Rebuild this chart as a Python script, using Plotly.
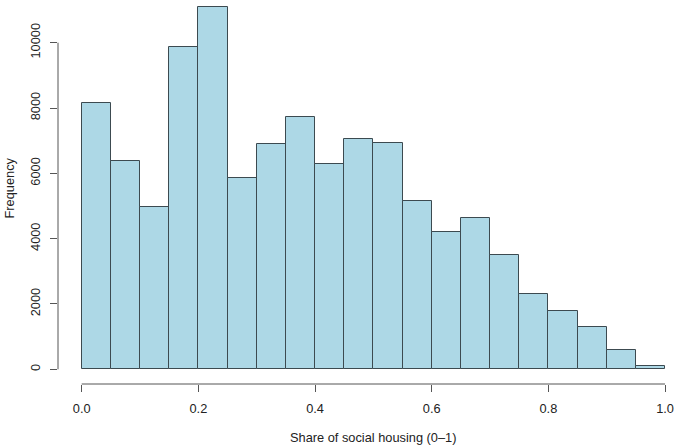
import plotly.graph_objects as go

# Histogram of the share of social housing, 20 bins of width 0.05
bin_left = [0.00, 0.05, 0.10, 0.15, 0.20, 0.25, 0.30, 0.35, 0.40, 0.45,
            0.50, 0.55, 0.60, 0.65, 0.70, 0.75, 0.80, 0.85, 0.90, 0.95]
counts = [8140, 6390, 4960, 9860, 11090, 5870, 6890, 7740, 6300, 7040,
          6930, 5160, 4210, 4630, 3500, 2300, 1800, 1300, 580, 110]
bin_width = 0.05
x_ticks = [0.0, 0.2, 0.4, 0.6, 0.8, 1.0]
x_tick_text = ["0.0", "0.2", "0.4", "0.6", "0.8", "1.0"]
y_ticks = [0, 2000, 4000, 6000, 8000, 10000]
y_tick_text = ["0", "2000", "4000", "6000", "8000", "10000"]

centers = [b + bin_width / 2 for b in bin_left]

FONT = "Liberation Sans, Arial, sans-serif"
FS = 12.8
AXIS_COLOR = "#555555"
TEXT_COLOR = "#222222"

W, H = 675, 446
ML, MR, MT, MB = 58, 0, 0, 62
PW, PH = W - ML - MR, H - MT - MB


def px_x(px):
    return (px - ML) / PW


def px_y(py):
    return (H - MB - py) / PH


fig = go.Figure(
    go.Bar(
        x=centers,
        y=counts,
        width=bin_width,
        marker=dict(color="#ADD8E6", line=dict(color="#3c4a50", width=1)),
        hoverinfo="x+y",
    )
)

fig.update_layout(
    width=W,
    height=H,
    margin=dict(l=ML, r=MR, t=MT, b=MB),
    paper_bgcolor="white",
    plot_bgcolor="white",
    bargap=0,
    showlegend=False,
    font=dict(family=FONT, size=FS, color=TEXT_COLOR),
    xaxis=dict(
        range=[-0.0406, 1.0171],
        tickvals=x_ticks,
        ticktext=x_tick_text,
        ticks="outside",
        ticklen=7,
        tickcolor=AXIS_COLOR,
        showgrid=False,
        zeroline=False,
        showline=False,
        ticklabelstandoff=6,
        tickfont=dict(size=FS, color=TEXT_COLOR),
    ),
    yaxis=dict(
        range=[-450, 11307],
        tickvals=y_ticks,
        ticktext=y_tick_text,
        ticks="outside",
        ticklen=7,
        tickcolor=AXIS_COLOR,
        tickangle=-90,
        showgrid=False,
        zeroline=False,
        showline=False,
        ticklabelstandoff=5,
        tickfont=dict(size=FS, color=TEXT_COLOR),
    ),
    shapes=[
        # axis lines spanning first to last tick
        dict(type="line", xref="x", yref="paper", x0=x_ticks[0], x1=x_ticks[-1],
             y0=0, y1=0, line=dict(color=AXIS_COLOR, width=1)),
        dict(type="line", xref="paper", yref="y", x0=0, x1=0,
             y0=y_ticks[0], y1=y_ticks[-1], line=dict(color=AXIS_COLOR, width=1)),
    ],
    annotations=[
        dict(text="Share of social housing (0\u20131)", xref="paper", yref="paper",
             x=px_x(373), y=px_y(437),
             showarrow=False, xanchor="center", yanchor="middle",
             font=dict(size=FS, color=TEXT_COLOR)),
        dict(text="Frequency", xref="paper", yref="paper",
             x=px_x(8.5), y=px_y(188),
             showarrow=False, xanchor="center", yanchor="middle", textangle=-90,
             font=dict(size=FS, color=TEXT_COLOR)),
    ],
)

fig.write_html("out.html")
